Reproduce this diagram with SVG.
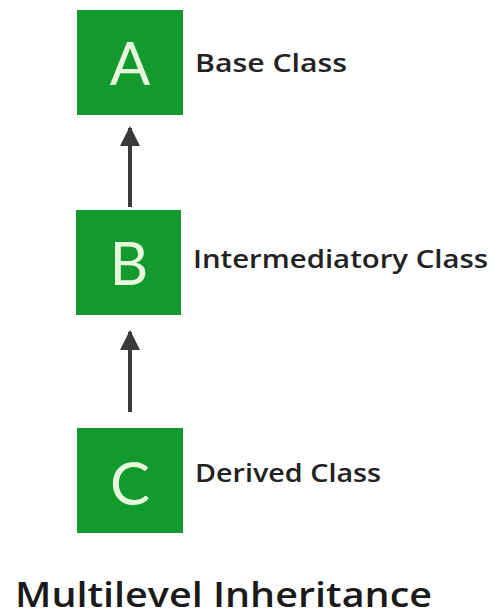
<svg xmlns="http://www.w3.org/2000/svg" width="493" height="616" viewBox="0 0 493 616">
<defs>
<style>
.box{fill:#129a2e;}
.letter{font-family:"Lato","Open Sans",sans-serif;font-weight:400;font-size:60px;fill:#e6f7dc;text-anchor:middle;}
.label{font-family:"Open Sans","Noto Sans",sans-serif;font-weight:600;font-size:25px;fill:#222;}
.title{font-family:"Open Sans","Noto Sans",sans-serif;font-weight:600;font-size:35px;fill:#1a1a1a;}
.conn{stroke:#3a3a3a;stroke-width:4;fill:none;}
</style>
<marker id="arrow" markerWidth="5" markerHeight="5" refX="4.5" refY="2.5" orient="auto" markerUnits="strokeWidth">
<path d="M0,0 L5,2.5 L0,5 Z" fill="#3a3a3a"/>
</marker>
</defs>
<rect width="493" height="616" fill="#ffffff"/>
<g id="connectors">
<line class="conn" x1="130" y1="207" x2="130" y2="128" marker-end="url(#arrow)"/>
<line class="conn" x1="130" y1="412" x2="130" y2="332" marker-end="url(#arrow)"/>
</g>
<g id="nodeA">
<rect class="box" x="77" y="10" width="106" height="105"/>
<text class="letter" x="130" y="85">A</text>
<text class="label" x="195" y="72" textLength="152" lengthAdjust="spacingAndGlyphs">Base Class</text>
</g>
<g id="nodeB">
<rect class="box" x="76" y="210" width="105" height="105"/>
<text class="letter" x="129" y="285">B</text>
<text class="label" x="193" y="268" textLength="295" lengthAdjust="spacingAndGlyphs">Intermediatory Class</text>
</g>
<g id="nodeC">
<rect class="box" x="77" y="428" width="106" height="105"/>
<text class="letter" x="130" y="505">C</text>
<text class="label" x="195" y="482" textLength="186" lengthAdjust="spacingAndGlyphs">Derived Class</text>
</g>
<text class="title" x="15" y="607" textLength="417" lengthAdjust="spacingAndGlyphs">Multilevel Inheritance</text>
</svg>
